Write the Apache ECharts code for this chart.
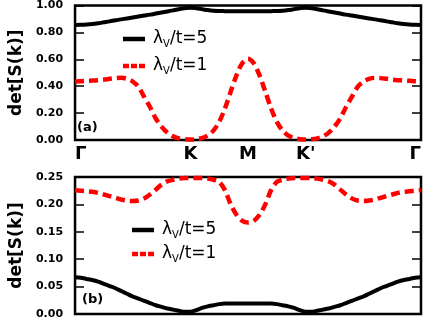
<!DOCTYPE html>
<html>
<head>
<meta charset="utf-8">
<script src="https://cdn.jsdelivr.net/npm/echarts@6/dist/echarts.min.js"></script>
<style>html,body{margin:0;padding:0;background:#fff;}#c{width:443px;height:320px;}</style>
</head>
<body>
<div id="c"></div>
<script>
// path coordinate along Γ-K-M-K'-Γ (Γ=0, K=1, M=1.5, K'=2, Γ=3)
const kPath = [0,0.05,0.1,0.15,0.2,0.25,0.3,0.35,0.4,0.45,0.5,0.55,0.6,0.65,0.7,0.75,0.8,0.85,0.9,0.95,
  1,1.05,1.1,1.15,1.2,1.25,1.3,1.35,1.4,1.45,1.5,1.55,1.6,1.65,1.7,1.75,1.8,1.85,1.9,1.95,
  2,2.05,2.1,2.15,2.2,2.25,2.3,2.35,2.4,2.45,2.5,2.55,2.6,2.65,2.7,2.75,2.8,2.85,2.9,2.95,3];
const pointTicks = {0:'Γ', 1:'K', 1.5:'M', 2:"K'", 3:'Γ'};
const seriesNames = ['λV/t=5', 'λV/t=1'];

// panel (a)
const topLam5 = [0.855,0.856,0.858,0.862,0.868,0.875,0.882,0.890,0.897,0.904,0.911,0.918,0.925,0.932,0.940,0.948,0.956,0.964,0.972,0.979,
  0.984,0.980,0.973,0.966,0.961,0.959,0.958,0.957,0.957,0.957,0.957,
  0.957,0.957,0.957,0.958,0.959,0.961,0.966,0.973,0.980,0.984,0.979,0.972,0.964,0.956,0.948,0.940,0.932,0.925,0.918,0.911,0.904,0.897,0.890,0.882,0.875,0.868,0.862,0.858,0.856,0.855];
const topLam1 = [0.435,0.437,0.440,0.442,0.445,0.449,0.455,0.460,0.462,0.455,0.435,0.395,0.320,0.245,0.160,0.100,0.055,0.027,0.012,0.005,
  0.003,0.006,0.014,0.033,0.070,0.135,0.235,0.360,0.480,0.570,0.605,
  0.570,0.480,0.360,0.235,0.135,0.070,0.033,0.014,0.006,0.003,0.005,0.012,0.027,0.055,0.100,0.160,0.245,0.320,0.395,0.435,0.455,0.462,0.460,0.455,0.449,0.445,0.442,0.440,0.437,0.435];
// panel (b)
const botLam5 = [0.067,0.066,0.064,0.062,0.059,0.055,0.051,0.047,0.042,0.037,0.032,0.028,0.024,0.020,0.016,0.013,0.010,0.008,0.006,0.004,
  0.004,0.007,0.011,0.014,0.016,0.018,0.019,0.019,0.019,0.019,0.019,
  0.019,0.019,0.019,0.019,0.018,0.016,0.014,0.011,0.007,0.004,0.004,0.006,0.008,0.010,0.013,0.016,0.020,0.024,0.028,0.032,0.037,0.042,0.047,0.051,0.055,0.059,0.062,0.064,0.066,0.067];
const botLam1 = [0.226,0.225,0.224,0.223,0.221,0.218,0.215,0.212,0.209,0.207,0.206,0.207,0.211,0.218,0.227,0.236,0.242,0.245,0.247,0.248,
  0.248,0.248,0.248,0.247,0.245,0.241,0.226,0.200,0.181,0.170,0.167,
  0.170,0.181,0.200,0.226,0.241,0.245,0.247,0.248,0.248,0.248,0.248,0.247,0.245,0.242,0.236,0.227,0.218,0.211,0.207,0.206,0.207,0.209,0.212,0.215,0.218,0.221,0.223,0.224,0.225,0.226];

const FONT = 'DejaVu Sans';
const pairs = (ys) => kPath.map((x, i) => [x, ys[i]]);

function yAxes(gridIndex, max, interval) {
  const common = {
    type: 'value', gridIndex, min: 0, max, interval,
    axisLine: {show: false}, splitLine: {show: false},
    axisTick: {show: true, inside: true, length: 9, lineStyle: {color: '#000', width: 1.5}}
  };
  return [
    Object.assign({}, common, {
      position: 'left',
      name: 'det[S(k)]', nameLocation: 'middle', nameGap: 46,
      nameTextStyle: {fontFamily: FONT, fontWeight: 'bold', fontSize: 17, color: '#000'},
      axisLabel: {fontFamily: FONT, fontWeight: 'bold', fontSize: 11, color: '#000', margin: 12,
        formatter: v => v.toFixed(2)}
    }),
    Object.assign({}, common, {position: 'right', axisLabel: {show: false}})
  ];
}

const legendText = {
  fontFamily: FONT, fontSize: 17, color: '#000', lineHeight: 20, padding: [0, 0, 0, 3],
  rich: {
    a: {fontFamily: FONT, fontSize: 17, color: '#000', lineHeight: 20},
    s: {fontFamily: FONT, fontSize: 10, color: '#000', lineHeight: 20, verticalAlign: 'bottom', padding: [6, 0, 0, 0]}
  }
};
const legendFmt = name => '{a|λ}{s|V}{a|' + name.slice(2) + '}';
const legendItems = [
  {name: seriesNames[0], icon: 'rect', itemStyle: {color: '#000'}},
  {name: seriesNames[1], icon: 'path://M0,0h6v4.5h-6z M8,0h6v4.5h-6z M16,0h6v4.5h-6z', itemStyle: {color: '#ff0000'}}
];

function mkSeries(name, xi, yi, ys, dashed) {
  return {
    name, type: 'line', xAxisIndex: xi, yAxisIndex: yi, data: pairs(ys),
    showSymbol: false, symbol: 'none', smooth: 0.3,
    lineStyle: dashed ? {color: '#ff0000', width: 4.5, type: [9, 5]} : {color: '#000', width: 4},
    itemStyle: {color: dashed ? '#ff0000' : '#000'}
  };
}

const chart = echarts.init(document.getElementById('c'), null, {renderer: 'canvas'});
chart.setOption({
  animation: false,
  grid: [
    {left: 65, right: 22, top: 3, height: 137, show: true, borderColor: '#000', borderWidth: 2.5, backgroundColor: 'transparent'},
    {left: 65, right: 22, top: 177, height: 137, show: true, borderColor: '#000', borderWidth: 2.5, backgroundColor: 'transparent'}
  ],
  xAxis: [
    {type: 'value', gridIndex: 0, min: 0, max: 3, interval: 0.5,
      axisLine: {show: false}, axisTick: {show: false}, splitLine: {show: false},
      axisLabel: {fontFamily: FONT, fontWeight: 'bold', fontSize: 18, color: '#000', margin: 5,
        showMinLabel: true, showMaxLabel: true, alignMinLabel: 'left', alignMaxLabel: 'right',
        formatter: v => pointTicks[v] || ''}},
    {type: 'value', gridIndex: 1, min: 0, max: 3, interval: 0.5,
      axisLine: {show: false}, axisTick: {show: false}, splitLine: {show: false}, axisLabel: {show: false}}
  ],
  yAxis: yAxes(0, 1, 0.2).concat(yAxes(1, 0.25, 0.05)),
  legend: [
    {orient: 'vertical', left: 123, top: 29, itemWidth: 22, itemHeight: 4.5, itemGap: 7,
      data: legendItems, textStyle: legendText, formatter: legendFmt, padding: 0},
    {orient: 'vertical', left: 132, top: 220, itemWidth: 22, itemHeight: 4.5, itemGap: 4,
      data: legendItems, textStyle: legendText, formatter: legendFmt, padding: 0}
  ],
  graphic: [
    {type: 'text', left: 77, top: 121, style: {text: '(a)', font: 'bold 13px "DejaVu Sans"', fill: '#000'}},
    {type: 'text', left: 82, top: 293, style: {text: '(b)', font: 'bold 13px "DejaVu Sans"', fill: '#000'}}
  ],
  series: [
    mkSeries(seriesNames[0], 0, 0, topLam5, false),
    mkSeries(seriesNames[1], 0, 0, topLam1, true),
    mkSeries(seriesNames[0], 1, 2, botLam5, false),
    mkSeries(seriesNames[1], 1, 2, botLam1, true)
  ]
});
</script>
</body>
</html>
